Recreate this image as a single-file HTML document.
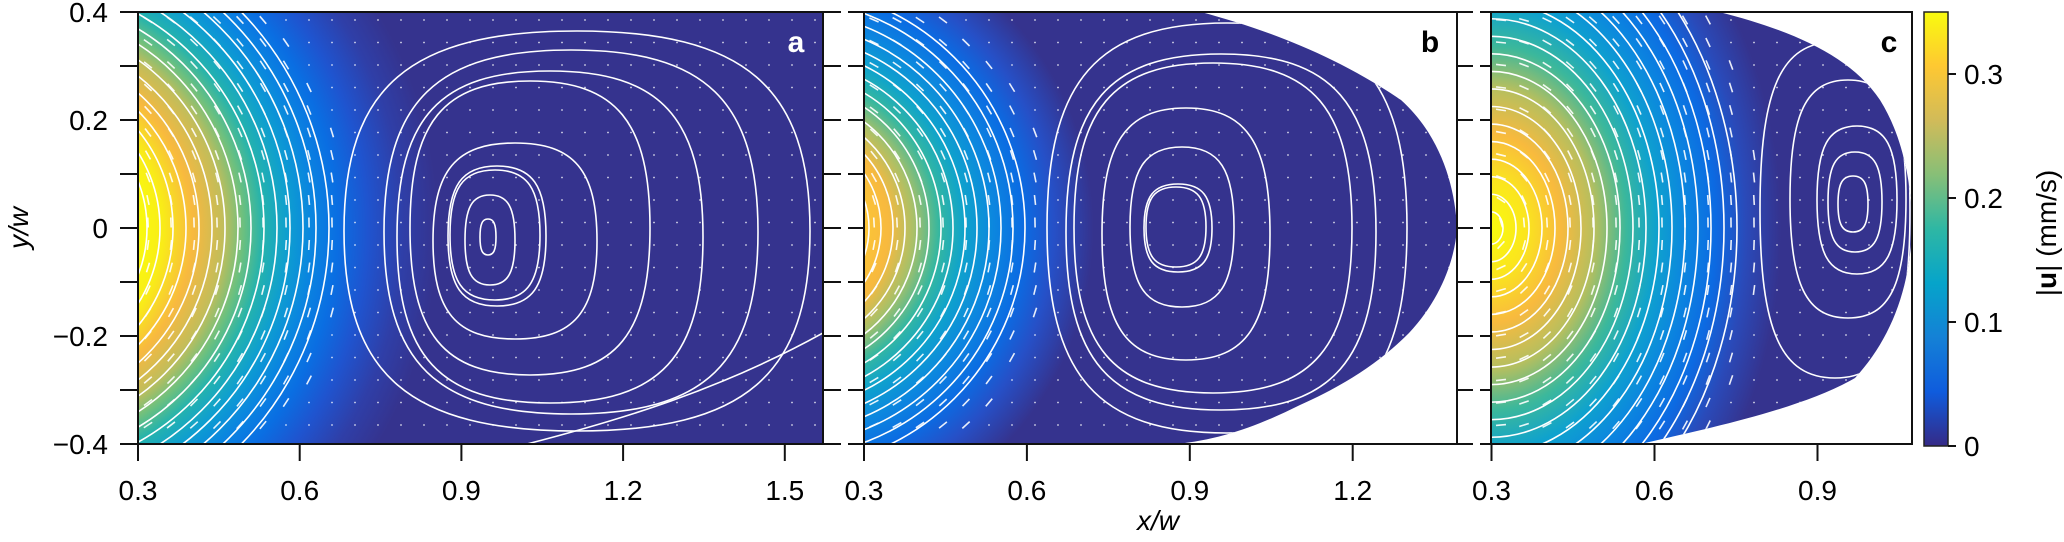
<!DOCTYPE html>
<html><head><meta charset="utf-8"><style>
html,body{margin:0;padding:0;background:#fff;width:2064px;height:542px;overflow:hidden}
svg{display:block}
svg text{font-family:"Liberation Sans",sans-serif;fill:#000}
</style></head><body>
<svg id="s" width="2064" height="542" viewBox="0 0 2064 542" xmlns="http://www.w3.org/2000/svg">
<defs>
<clipPath id="ca"><rect x="138" y="12" width="685" height="432"/></clipPath>
<clipPath id="cb"><path d="M864,12 L1201,12 C1260,28 1330,52 1401,100 C1440,135 1455,185 1457,228 C1455,260 1440,300 1409,333 C1380,362 1345,385 1300,405 C1260,425 1220,440 1176,444 L864,444 Z"/></clipPath>
<clipPath id="cc"><path d="M1491,12 L1719,12 C1790,30 1850,55 1880,100 C1905,140 1912,190 1912,228 C1910,290 1890,340 1855,378 C1800,410 1700,430 1641,444 L1491,444 Z"/></clipPath>
<radialGradient id="ga" gradientUnits="userSpaceOnUse" cx="19" cy="228" r="419">
<stop offset="0.284" stop-color="#f9fb0e"/><stop offset="0.344" stop-color="#f9ec18"/><stop offset="0.415" stop-color="#f8b93f"/><stop offset="0.487" stop-color="#c2bd5a"/><stop offset="0.535" stop-color="#6cc07f"/><stop offset="0.582" stop-color="#25b3ac"/><stop offset="0.642" stop-color="#0e9ed0"/><stop offset="0.702" stop-color="#0a84e0"/><stop offset="0.761" stop-color="#0a6ee2"/><stop offset="0.833" stop-color="#1f54cf"/><stop offset="0.916" stop-color="#2f3fa8"/><stop offset="1" stop-color="#35338e"/>
</radialGradient>
<radialGradient id="gb" gradientUnits="userSpaceOnUse" cx="784" cy="228" r="340">
<stop offset="0.235" stop-color="#fcc536"/><stop offset="0.309" stop-color="#f7b93f"/><stop offset="0.382" stop-color="#a9c068"/><stop offset="0.456" stop-color="#35b7a0"/><stop offset="0.529" stop-color="#0fa3cb"/><stop offset="0.618" stop-color="#0c86df"/><stop offset="0.706" stop-color="#0b6be2"/><stop offset="0.794" stop-color="#2650c7"/><stop offset="0.91" stop-color="#35338e"/><stop offset="1" stop-color="#35338e"/>
</radialGradient>
<radialGradient id="gc" gradientUnits="userSpaceOnUse" cx="1491" cy="228" r="300" gradientTransform="translate(1491 228) scale(1 1.35) translate(-1491 -228)">
<stop offset="0" stop-color="#f9fb0e"/><stop offset="0.117" stop-color="#fbe51e"/><stop offset="0.233" stop-color="#f8ba3e"/><stop offset="0.35" stop-color="#b3bf60"/><stop offset="0.45" stop-color="#3cb89b"/><stop offset="0.55" stop-color="#0fa2cd"/><stop offset="0.65" stop-color="#0b86df"/><stop offset="0.75" stop-color="#0c6ae2"/><stop offset="0.85" stop-color="#2a4ab9"/><stop offset="0.967" stop-color="#35338e"/><stop offset="1" stop-color="#35338e"/>
</radialGradient>
<linearGradient id="gbar" x1="0" y1="446" x2="0" y2="12" gradientUnits="userSpaceOnUse">
<stop offset="0" stop-color="#352a87"/><stop offset="0.125" stop-color="#0f5cdd"/><stop offset="0.25" stop-color="#1481d6"/><stop offset="0.375" stop-color="#06a4ca"/><stop offset="0.5" stop-color="#2eb7a4"/><stop offset="0.625" stop-color="#87bf77"/><stop offset="0.75" stop-color="#d1bb59"/><stop offset="0.875" stop-color="#fec832"/><stop offset="1" stop-color="#f9fb0e"/>
</linearGradient>
</defs>
<g clip-path="url(#ca)"><rect x="138" y="12" width="685" height="432" fill="url(#ga)"/><g id="la" fill="none" stroke="#fff" stroke-width="1.6"></g></g>
<g clip-path="url(#cb)"><rect x="864" y="12" width="593" height="432" fill="url(#gb)"/><g id="lb" fill="none" stroke="#fff" stroke-width="1.6"></g></g>
<g clip-path="url(#cc)"><rect x="1491" y="12" width="421" height="432" fill="url(#gc)"/><g id="lc" fill="none" stroke="#fff" stroke-width="1.6"></g></g>
<rect x="1924" y="12" width="24" height="434" fill="url(#gbar)" stroke="#222" stroke-width="1.5"/>
<g fill="none" stroke="#111" stroke-width="2">
<rect x="138" y="12" width="685" height="432"/>
<rect x="864" y="12" width="593" height="432"/>
<rect x="1491" y="12" width="421" height="432"/>
</g>
<g id="ticks" stroke="#111" stroke-width="2"></g>
<g id="tl" font-size="28"></g>
<text x="796" y="52" font-size="30" font-weight="bold" text-anchor="middle" style="fill:#fff">a</text>
<text x="1430" y="52" font-size="30" font-weight="bold" text-anchor="middle">b</text>
<text x="1889" y="52" font-size="30" font-weight="bold" text-anchor="middle">c</text>
<text x="1158" y="530" font-size="28" font-style="italic" text-anchor="middle">x/w</text>
<text transform="translate(28 228) rotate(-90)" font-size="28" font-style="italic" text-anchor="middle">y/w</text>
<text transform="translate(2056 233) rotate(-90)" font-size="28" text-anchor="middle">|<tspan font-weight="bold">u</tspan>| (mm/s)</text>
</svg>
<script>
var NS="http://www.w3.org/2000/svg";
function el(p,t,a){var e=document.createElementNS(NS,t);for(var k in a)e.setAttribute(k,a[k]);p.appendChild(e);return e;}
function loop(g,cx,cy,rx,ry,k){k=k||0.72;var d="M"+(cx-rx)+","+cy+" C"+(cx-rx)+","+(cy-ry*k)+" "+(cx-rx*k)+","+(cy-ry)+" "+cx+","+(cy-ry)+" C"+(cx+rx*k)+","+(cy-ry)+" "+(cx+rx)+","+(cy-ry*k)+" "+(cx+rx)+","+cy+" C"+(cx+rx)+","+(cy+ry*k)+" "+(cx+rx*k)+","+(cy+ry)+" "+cx+","+(cy+ry)+" C"+(cx-rx*k)+","+(cy+ry)+" "+(cx-rx)+","+(cy+ry*k)+" "+(cx-rx)+","+cy+" Z";el(g,"path",{d:d});}
function arcs(g,cx,cy,k,r0,r1,st){for(var r=r0;r<=r1;r+=st)el(g,"ellipse",{cx:cx,cy:cy,rx:r,ry:r*k});}
function grid(g,L,R,cx,cy,k,rc){for(var x=L+10;x<R;x+=23)for(var y=20;y<444;y+=22.5){var dx=x-cx,dy=y-cy;var r=Math.sqrt(dx*dx+dy*dy/(k*k));if(r<rc){var tx=-dy/(k*k),ty=dx;var n=Math.sqrt(tx*tx+ty*ty);tx/=n;ty/=n;if(ty<0){tx=-tx;ty=-ty;}el(g,"line",{x1:x-tx*5,y1:y-ty*5,x2:x+tx*5,y2:y+ty*5,"stroke-width":1.6,opacity:0.9});}else el(g,"circle",{cx:x,cy:y,r:0.9,fill:"#fff",stroke:"none",opacity:0.8});}}
var A=document.getElementById("la"),B=document.getElementById("lb"),C=document.getElementById("lc");
grid(A,138,823,19,228,1,330);arcs(A,19,228,1,128,318,13);
[[488,237,8,18],[490,240,25,45],[495,235,45,65],[497,236,49,70],[515,241,82,98],[530,228,120,147],[550,237,153,166],[571,232,187,182],[577,231,233,200]].forEach(function(a){loop(A,a[0],a[1],a[2],a[3]);});
el(A,"path",{d:"M527,444 C620,420 720,390 823,333"});
grid(B,864,1457,784,228,1,270);arcs(B,784,228,1,85,250,12);
[[1176,227,30,40],[1178,228,34,44],[1182,227,52,80],[1186,234,84,126],[1213,228,139,165],[1221,232,155,178],[1227,228,180,205]].forEach(function(a){loop(B,a[0],a[1],a[2],a[3]);});
grid(C,1491,1912,1491,228,1.35,270);arcs(C,1491,228,1.35,12,250,13);
[[1853,204,15,28],[1855,202,27,50],[1857,200,40,74],[1848,199,58,119],[1835,210,75,168]].forEach(function(a){loop(C,a[0],a[1],a[2],a[3]);});
var T=document.getElementById("ticks"),TL=document.getElementById("tl");
for(var i=0;i<=8;i++){var y=12+i*54;
 el(T,"line",{x1:120,y1:y,x2:138,y2:y});el(T,"line",{x1:823,y1:y,x2:841,y2:y});
 el(T,"line",{x1:848,y1:y,x2:864,y2:y});el(T,"line",{x1:1457,y1:y,x2:1473,y2:y});
 el(T,"line",{x1:1480,y1:y,x2:1491,y2:y});}
var yl={0:"0.4",2:"0.2",4:"0",6:"\u22120.2",8:"\u22120.4"};
for(var i in yl){var t=el(TL,"text",{x:108,y:12+i*54+10,"text-anchor":"end"});t.textContent=yl[i];}
function xt(L,step,labs){labs.forEach(function(s,j){var x=L+j*step;el(T,"line",{x1:x,y1:444,x2:x,y2:461});var t=el(TL,"text",{x:x,y:500,"text-anchor":"middle"});t.textContent=s;});}
xt(138,161.7,["0.3","0.6","0.9","1.2","1.5"]);xt(864,162.9,["0.3","0.6","0.9","1.2"]);xt(1491.5,163,["0.3","0.6","0.9"]);
[[446,"0"],[322,"0.1"],[198,"0.2"],[74,"0.3"]].forEach(function(a){el(T,"line",{x1:1948,y1:a[0],x2:1956,y2:a[0]});var t=el(TL,"text",{x:1964,y:a[0]+10});t.textContent=a[1];});
</script>
</body></html>
